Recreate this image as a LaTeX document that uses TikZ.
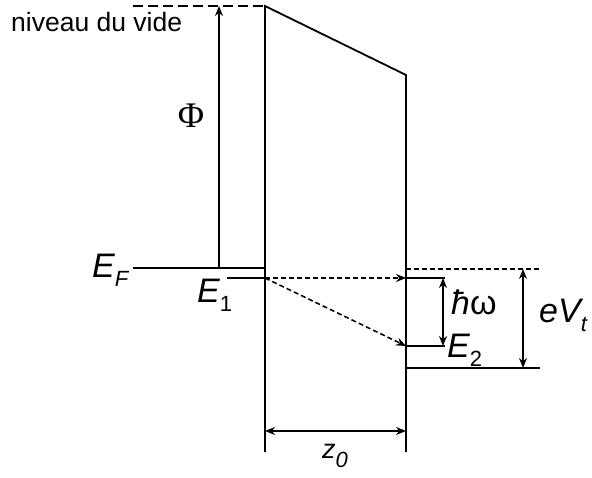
\documentclass[tikz,border=0pt]{standalone}
\usepackage{fontspec}
\setmainfont{Liberation Sans}
\newfontfamily\serifphi{Liberation Serif}
\usetikzlibrary{arrows.meta}
\newcommand{\ind}[1]{\raisebox{-9pt}{\fontsize{22}{24}\selectfont #1}}
\tikzset{
  band/.style={line width=1.8pt},
  level/.style={line width=1.8pt},
  vide/.style={line width=1.5pt, dash pattern=on 10pt off 5pt},
  trans/.style={line width=1.5pt, dash pattern=on 5pt off 3pt, ->},
  cote/.style={line width=1.8pt},
  lbl/.style={anchor=base west, inner sep=0pt, font=\fontsize{34}{38}\selectfont}
}
\begin{document}
\begin{tikzpicture}[x=1pt, y=-1pt, >={Stealth[length=10pt,width=8pt]}]
      \useasboundingbox (0,0) rectangle (592,478);
      % barrier
      \coordinate (bl) at (265,6);
      \coordinate (br) at (406,75);
      \coordinate (bl0) at (265,452);
      \coordinate (br0) at (406,452);
      \draw[band] (bl0) -- (bl) -- (br) -- (br0);
      % vacuum level and work function
      \coordinate (vv) at (133,6);
      \draw[vide] (vv) -- (bl);
      \node[anchor=base west, inner sep=0pt, font=\fontsize{26.5}{30}\selectfont] (vide) at (11,32) {niveau du vide};
      \coordinate (phib) at (219,268);
      \coordinate (phit) at (219,6);
      \draw[cote,->] (phib) -- (phit);
      \node[font=\serifphi\fontsize{36}{40}\selectfont] (phi) at (191,116) {Φ};
      % left electrode levels
      \coordinate (ef) at (133,268);
      \coordinate (efb) at (265,268);
      \draw[level] (ef) -- (efb);
      \coordinate (e1) at (227,278);
      \coordinate (e1b) at (265,278);
      \draw[level] (e1) -- (e1b);
      \node[lbl] (lef) at (92,278) {\itshape E\ind{F}};
      \node[lbl] (le1) at (197,303) {\itshape E\ind{\upshape 1}};
      % tunnelling transitions
      \coordinate (t1) at (406,278);
      \coordinate (t2) at (406,346);
      \draw[trans] (e1b) -- (t1);
      \draw[trans] (e1b) -- (t2);
      % right electrode levels
      \coordinate (ra) at (406,269);
      \coordinate (rae) at (540,269);
      \draw[line width=1.5pt, dash pattern=on 5pt off 3pt] (ra) -- (rae);
      \coordinate (t1e) at (445,278);
      \coordinate (t2e) at (445,346);
      \draw[level] (t1) -- (t1e);
      \draw[level] (t2) -- (t2e);
      \coordinate (rb) at (406,368);
      \coordinate (rbe) at (540,368);
      \draw[level] (rb) -- (rbe);
      \draw[cote,<->] (443,278) -- (443,346);
      \draw[cote,<->] (523,269) -- (523,368);
      \node[lbl] (lhw) at (451,315) {\itshape ħ\upshape ω};
      \node[lbl] (le2) at (447,358) {\itshape E\ind{\upshape 2}};
      \node[lbl] (lev) at (539,323) {\itshape eV\ind{t}};
      % barrier width
      \draw[cote,<->] (265,431) -- (406,431);
      \node[anchor=base west, inner sep=0pt, font=\fontsize{27}{30}\selectfont] (lz) at (322,458) {\itshape z\ind{0}};
\end{tikzpicture}
\end{document}
